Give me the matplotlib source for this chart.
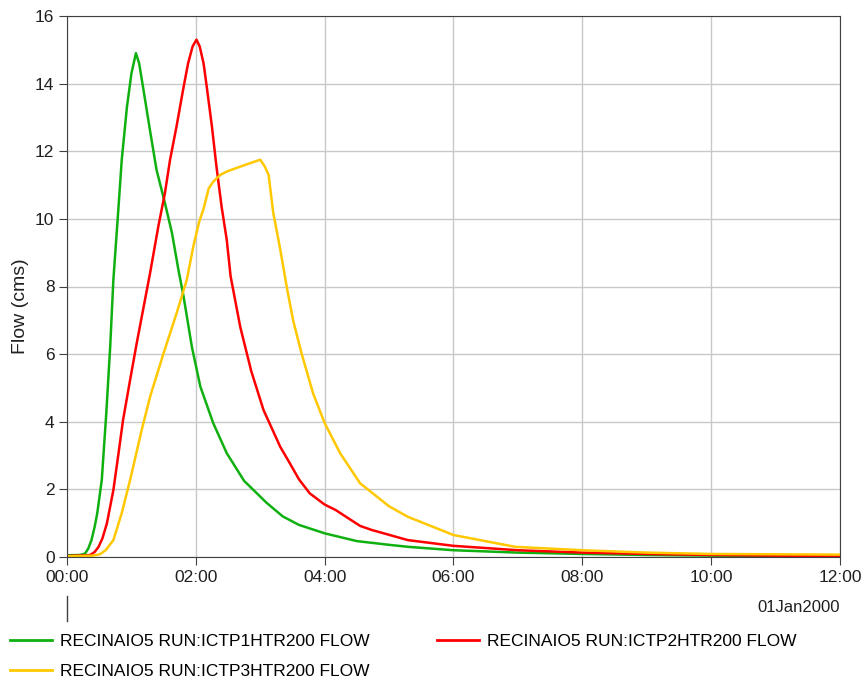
import matplotlib.pyplot as plt
from matplotlib.ticker import FuncFormatter, MultipleLocator
from matplotlib.lines import Line2D

plt.rcParams['font.family'] = ['Liberation Sans', 'DejaVu Sans']

# hours since 00:00 01Jan2000, flow in cms
t1 = [0.0, 0.2, 0.28, 0.33, 0.38, 0.43, 0.47, 0.54, 0.61, 0.67, 0.72, 0.8, 0.85, 0.93, 1.0, 1.07,
      1.12, 1.18, 1.29, 1.39, 1.52, 1.63, 1.73, 1.81, 1.94, 2.07, 2.27, 2.48, 2.75, 3.1, 3.35, 3.6,
      4.0, 4.5, 5.0, 5.3, 6.0, 7.0, 8.0, 9.0, 10.0, 11.0, 12.0]
q1 = [0.05, 0.06, 0.1, 0.25, 0.5, 0.9, 1.3, 2.28, 4.26, 6.2, 8.2, 10.36, 11.75, 13.3, 14.3, 14.9,
      14.6, 13.9, 12.6, 11.45, 10.47, 9.58, 8.49, 7.7, 6.2, 5.04, 3.96, 3.07, 2.25, 1.6, 1.2, 0.95,
      0.7, 0.47, 0.36, 0.3, 0.2, 0.13, 0.09, 0.06, 0.04, 0.03, 0.02]

t2 = [0.0, 0.3, 0.36, 0.43, 0.49, 0.55, 0.62, 0.72, 0.8, 0.87, 0.98, 1.08, 1.21, 1.29, 1.42, 1.52,
      1.6, 1.7, 1.81, 1.88, 1.95, 2.01, 2.06, 2.12, 2.17, 2.25, 2.32, 2.4, 2.48, 2.54, 2.69, 2.86,
      3.05, 3.31, 3.46, 3.6, 3.77, 4.0, 4.17, 4.55, 4.73, 5.29, 6.0, 7.0, 8.0, 9.0, 10.0, 11.0, 12.0]
q2 = [0.03, 0.05, 0.06, 0.15, 0.3, 0.55, 1.0, 1.98, 3.07, 4.05, 5.24, 6.3, 7.6, 8.4, 9.8, 10.76,
      11.75, 12.73, 13.9, 14.6, 15.1, 15.3, 15.1, 14.6, 13.9, 12.73, 11.55, 10.36, 9.38, 8.3, 6.8, 5.5,
      4.35, 3.26, 2.77, 2.3, 1.88, 1.55, 1.39, 0.92, 0.8, 0.5, 0.33, 0.2, 0.13, 0.09, 0.06, 0.04, 0.03]

t3 = [0.0, 0.4, 0.51, 0.6, 0.72, 0.85, 0.98, 1.16, 1.29, 1.5, 1.7, 1.86, 1.96, 2.05, 2.12, 2.2,
      2.27, 2.38, 2.48, 2.74, 3.0, 3.07, 3.13, 3.2, 3.31, 3.41, 3.51, 3.64, 3.82, 4.0, 4.24, 4.55,
      5.0, 5.29, 6.0, 6.96, 8.0, 9.0, 10.0, 11.0, 12.0]
q3 = [0.02, 0.04, 0.08, 0.2, 0.5, 1.3, 2.28, 3.76, 4.74, 6.03, 7.2, 8.2, 9.18, 9.9, 10.3, 10.9,
      11.1, 11.3, 11.4, 11.58, 11.75, 11.55, 11.3, 10.2, 9.1, 8.0, 7.0, 6.03, 4.84, 3.96, 3.07, 2.18,
      1.5, 1.19, 0.65, 0.3, 0.2, 0.13, 0.09, 0.08, 0.07]

labels = ['RECINAIO5 RUN:ICTP1HTR200 FLOW',
          'RECINAIO5 RUN:ICTP2HTR200 FLOW',
          'RECINAIO5 RUN:ICTP3HTR200 FLOW']
colors = ['#11b011', '#ff0000', '#ffc800']

fig = plt.figure(figsize=(8.64, 6.8), dpi=100)
ax = fig.add_axes([67 / 864, 1 - 557 / 680, (840 - 67) / 864, (557 - 16) / 680])

l1, = ax.plot(t1, q1, color=colors[0], lw=1.8, label=labels[0])
l2, = ax.plot(t2, q2, color=colors[1], lw=1.8, label=labels[1])
l3, = ax.plot(t3, q3, color=colors[2], lw=1.8, label=labels[2])

ax.set_xlim(0, 12)
ax.set_ylim(0, 16)
ax.xaxis.set_major_locator(MultipleLocator(2))
ax.yaxis.set_major_locator(MultipleLocator(2))
ax.xaxis.set_major_formatter(FuncFormatter(lambda v, p: '%02d:00' % int(round(v))))
ax.grid(True, color='#c8c8c8', lw=1)
ax.set_axisbelow(True)
for s in ax.spines.values():
    s.set_color('#404040')
ax.tick_params(direction='out', length=6, color='#404040', labelsize=12.5, labelcolor='#202020', pad=3)

# y label sits a little below the axis centre in the reference
fig.text(21 / 864, 1 - 306 / 680, 'Flow (cms)', rotation=90, ha='center', va='center',
         fontsize=14, color='#202020')

# date label and marker under start of the axis
fig.text(840 / 864, 1 - 607 / 680, '01Jan2000', ha='right', va='center', fontsize=12, color='#202020')
fig.add_artist(Line2D([67 / 864, 67 / 864], [1 - 596 / 680, 1 - 621 / 680], color='#404040', lw=1))

leg_kw = dict(loc='upper left', frameon=False, fontsize=12.5, handlelength=2.4,
              handletextpad=0.5, labelspacing=0.85, borderpad=0, borderaxespad=0)
leg1 = fig.legend([l1, l3], [labels[0], labels[2]], bbox_to_anchor=(10 / 864, 1 - 634 / 680), **leg_kw)
leg2 = fig.legend([l2], [labels[1]], bbox_to_anchor=(437 / 864, 1 - 634 / 680), **leg_kw)
for lg in (leg1, leg2):
    for h in lg.legend_handles:
        h.set_linewidth(2)

fig.savefig('out.png', dpi=100)
